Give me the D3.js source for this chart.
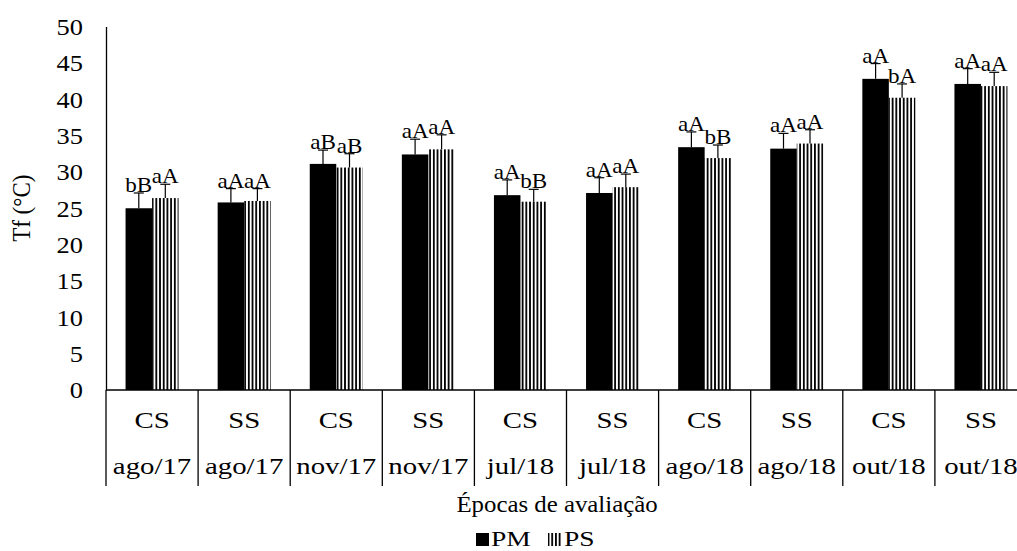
<!DOCTYPE html>
<html>
<head>
<meta charset="utf-8">
<script src="https://cdn.jsdelivr.net/npm/d3@7"></script>
<style>
  body { margin: 0; background: #fff; }
  text { font-family: "Liberation Serif", "Times New Roman", serif; fill: #000; }
</style>
</head>
<body>
<svg id="chart" width="1017" height="551"></svg>
<script>
// Surface temperature (Tf) per evaluation period, PM vs PS
const treatments = ["CS", "SS", "CS", "SS", "CS", "SS", "CS", "SS", "CS", "SS"];
const periods = ["ago/17", "ago/17", "nov/17", "nov/17", "jul/18", "jul/18", "ago/18", "ago/18", "out/18", "out/18"];
const pmValues = [25.0, 25.8, 31.1, 32.4, 26.8, 27.1, 33.4, 33.2, 42.8, 42.1];
const psValues = [26.4, 26.0, 30.6, 33.1, 25.9, 27.9, 31.9, 33.9, 40.2, 41.8];
const pmErrors = [2.1, 1.9, 1.9, 2.1, 2.1, 2.1, 2.1, 2.1, 2.1, 2.1];
const psErrors = [1.9, 1.7, 1.9, 2.0, 1.7, 1.8, 1.8, 1.9, 1.9, 1.9];
const pmLetters = ["bB", "aA", "aB", "aA", "aA", "aA", "aA", "aA", "aA", "aA"];
const psLetters = ["aA", "aA", "aB", "aA", "bB", "aA", "bB", "aA", "bA", "aA"];
const yTicks = [0, 5, 10, 15, 20, 25, 30, 35, 40, 45, 50];
const seriesNames = ["PM", "PS"];

const svg = d3.select("#chart");

// text styles: [font size, horizontal stretch]
const ST = {
  tick:   [23, 1.15],
  cat:    [24, 1.2],
  label:  [22, 1.05],
  xtitle: [23, 1.08],
  ytitle: [23, 1.1],
  legend: [22, 1.25]
};

const plotLeft = 106, bandW = 92.1, plotTop = 26.5, plotBase = 390, catBottom = 486;

const x = d3.scaleBand().domain(d3.range(treatments.length))
  .range([plotLeft, plotLeft + bandW * treatments.length]).padding(0);
const y = d3.scaleLinear().domain([0, 50]).range([plotBase, plotTop]);
const barW = 26.5;

// stripe pattern for PS
const defs = svg.append("defs");
defs.append("pattern")
  .attr("id", "vstripe").attr("patternUnits", "userSpaceOnUse")
  .attr("width", 3.7).attr("height", 10)
  .append("rect").attr("x", 0).attr("y", 0).attr("width", 1.8).attr("height", 10).attr("fill", "#000");

function styledText(parent, kind, str, tx, ty, anchor) {
  const [fs, sx] = ST[kind];
  return parent.append("text")
    .attr("text-anchor", anchor || "middle")
    .style("font-size", fs + "px")
    .attr("transform", `translate(${tx},${ty}) scale(${sx},1)`)
    .text(str);
}

// y axis
const yAxis = d3.axisLeft(y).tickValues(yTicks).tickSize(0).tickSizeOuter(0).tickPadding(0);
const gy = svg.append("g").attr("transform", `translate(${plotLeft},0)`).call(yAxis);
gy.select(".domain").attr("stroke", "#000").attr("stroke-width", 1.3);
gy.selectAll(".tick text")
  .attr("x", 0).attr("dy", "0.34em")
  .style("font-size", ST.tick[0] + "px").style("font-family", "'Liberation Serif', serif")
  .attr("text-anchor", "end")
  .attr("transform", `translate(-23,0) scale(${ST.tick[1]},1)`);

// category axis: baseline and separators
svg.append("line")
  .attr("x1", plotLeft).attr("x2", x.range()[1]).attr("y1", y(0)).attr("y2", y(0))
  .attr("stroke", "#000").attr("stroke-width", 1.3);
svg.append("g").selectAll("line")
  .data(d3.range(treatments.length + 1))
  .join("line")
  .attr("x1", i => plotLeft + i * x.bandwidth()).attr("x2", i => plotLeft + i * x.bandwidth())
  .attr("y1", y(0)).attr("y2", catBottom)
  .attr("stroke", "#000").attr("stroke-width", 1.3);

const cat = svg.append("g");
treatments.forEach((t, i) => {
  const cx = x(i) + x.bandwidth() / 2;
  styledText(cat, "cat", t, cx, 428);
  styledText(cat, "cat", periods[i], cx, 474);
});

// bars
const groups = svg.append("g").selectAll("g")
  .data(d3.range(treatments.length)).join("g");

const series = [
  { vals: pmValues, errs: pmErrors, letters: pmLetters, fill: "#000", off: -barW },
  { vals: psValues, errs: psErrors, letters: psLetters, fill: "url(#vstripe)", off: 0 }
];

series.forEach(s => {
  const cxBar = i => x(i) + x.bandwidth() / 2 + s.off + barW / 2;
  groups.append("rect")
    .attr("x", i => x(i) + x.bandwidth() / 2 + s.off)
    .attr("width", barW)
    .attr("y", i => y(s.vals[i]))
    .attr("height", i => y(0) - y(s.vals[i]))
    .attr("fill", s.fill);
  // error bars
  groups.append("line")
    .attr("x1", cxBar).attr("x2", cxBar)
    .attr("y1", i => y(s.vals[i]))
    .attr("y2", i => y(s.vals[i] + s.errs[i]))
    .attr("stroke", "#000").attr("stroke-width", 1.2);
  groups.append("line")
    .attr("x1", i => cxBar(i) - 5).attr("x2", i => cxBar(i) + 5)
    .attr("y1", i => y(s.vals[i] + s.errs[i]))
    .attr("y2", i => y(s.vals[i] + s.errs[i]))
    .attr("stroke", "#000").attr("stroke-width", 1.2);
  // significance letters
  groups.append("text")
    .attr("text-anchor", "middle").style("font-size", ST.label[0] + "px")
    .attr("transform", i => `translate(${cxBar(i)},${y(s.vals[i] + s.errs[i]) - 1}) scale(${ST.label[1]},1)`)
    .text(i => s.letters[i]);
});

// axis titles
svg.append("text")
  .attr("text-anchor", "middle").style("font-size", ST.ytitle[0] + "px")
  .attr("transform", `translate(30,${(y(0) + y(50)) / 2}) rotate(-90) scale(1,${ST.ytitle[1]})`)
  .text("Tf (°C)");
styledText(svg, "xtitle", "Épocas de avaliação", 557, 512);

// legend
const lg = svg.append("g");
lg.append("rect").attr("x", 476).attr("y", 533).attr("width", 13).attr("height", 13).attr("fill", "#000");
styledText(lg, "legend", seriesNames[0], 491, 546, "start");
lg.append("rect").attr("x", 548).attr("y", 533).attr("width", 13).attr("height", 13).attr("fill", "url(#vstripe)");
styledText(lg, "legend", seriesNames[1], 564, 546, "start");
</script>
</body>
</html>
